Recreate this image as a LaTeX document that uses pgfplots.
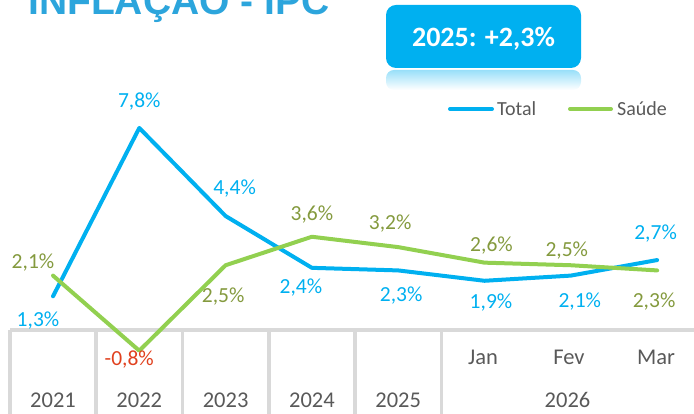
\documentclass[border=0pt]{standalone}
\usepackage{pgfplots}
\usepackage{pgfplotstable}
\pgfplotsset{compat=1.18}
\usepackage{fontspec}
\setmainfont{Carlito}
\newfontfamily\titlefont{Liberation Sans}

\definecolor{ipcblue}{HTML}{00B0F0}
\definecolor{ipcgreen}{HTML}{92D050}
\definecolor{lblolive}{HTML}{849A3E}
\definecolor{lblred}{HTML}{E0401E}
\definecolor{gridgray}{HTML}{D9D9D9}
\definecolor{txtgray}{HTML}{595959}
\definecolor{titleblue}{HTML}{2CA5DC}

% 0-4: 2021-2025, 5-7: Jan-Mar 2026
\pgfplotstableread{
x total saude
0 1.3 2.1
1 7.8 -0.8
2 4.4 2.5
3 2.4 3.6
4 2.3 3.2
5 1.9 2.6
6 2.1 2.5
7 2.7 2.3
}\ipc

% value label: colour, x, y, xshift, yshift, text
\newcommand{\lbl}[6]{\node[text=#1, anchor=base, inner sep=0pt, xshift=#4pt, yshift=#5pt,
  font=\fontsize{21.5}{21.5}\selectfont] at (axis cs:#2,#3) {#6};}

\begin{document}
\begin{tikzpicture}[x=1pt,y=1pt]
\useasboundingbox (0,0) rectangle (694,414);

% table under the chart
\draw[gridgray, line width=3.5pt] (10,84) -- (700,84);
\foreach \xx in {10,96.2,182.5,268.8,355,441.3}
  \draw[gridgray, line width=3.5pt] (\xx,84) -- (\xx,-5);

\begin{axis}[
    scale only axis, width=694pt, height=414pt,
    at={(0,0)}, anchor=south west,
    xmin=-0.6141, xmax=7.4276, ymin=-3.2432, ymax=12.7413,
    hide axis, clip=false]
  \addplot[ipcblue, line width=4pt, line cap=round, line join=round] table[x=x, y=total] {\ipc};
  \addplot[ipcgreen, line width=4pt, line cap=round, line join=round] table[x=x, y=saude] {\ipc};

  \lbl{ipcblue}{0}{1.3}{-15}{-29.7}{1,3\%}
  \lbl{ipcblue}{1}{7.8}{0}{20.3}{7,8\%}
  \lbl{ipcblue}{2}{4.4}{9}{21.3}{4,4\%}
  \lbl{ipcblue}{3}{2.4}{-11}{-25.7}{2,4\%}
  \lbl{ipcblue}{4}{2.3}{3}{-30.7}{2,3\%}
  \lbl{ipcblue}{5}{1.9}{6.5}{-27.4}{1,9\%}
  \lbl{ipcblue}{6}{2.1}{9}{-32.1}{2,1\%}
  \lbl{ipcblue}{7}{2.7}{-1.5}{20.3}{2,7\%}

  \lbl{lblolive}{0}{2.1}{-20}{6.9}{2,1\%}
  \lbl{lblred}{1}{-0.8}{-10}{-14.7}{-0,8\%}
  \lbl{lblolive}{2}{2.5}{-2.4}{-37.7}{2,5\%}
  \lbl{lblolive}{3}{3.6}{0}{16.3}{3,6\%}
  \lbl{lblolive}{4}{3.2}{-8}{17.3}{3,2\%}
  \lbl{lblolive}{5}{2.6}{7}{11.3}{2,6\%}
  \lbl{lblolive}{6}{2.5}{-4}{9}{2,5\%}
  \lbl{lblolive}{7}{2.3}{-3}{-37.3}{2,3\%}
\end{axis}

% category labels
\begin{scope}[every node/.style={anchor=base, inner sep=0pt, text=txtgray, font=\fontsize{22.5}{22.5}\selectfont}]
  \node at (53,6) {2021};
  \node at (139.3,6) {2022};
  \node at (225.6,6) {2023};
  \node at (311.9,6) {2024};
  \node at (398.2,6) {2025};
  \node at (567.5,6) {2026};
  \node at (483,49) {Jan};
  \node at (569,49) {Fev};
  \node at (656,49) {Mar};
\end{scope}

% legend
\draw[ipcblue, line width=4pt, line cap=round] (450,305) -- (492,305);
\node[anchor=base west, inner sep=0pt, text=txtgray, font=\fontsize{20}{20}\selectfont] at (497,298) {Total};
\draw[ipcgreen, line width=4pt, line cap=round] (570,305) -- (611,305);
\node[anchor=base west, inner sep=0pt, text=txtgray, font=\fontsize{20}{20}\selectfont] at (617,298) {Saúde};

% title (cut at the top edge)
\node[anchor=base west, inner sep=0pt, text=titleblue, font=\titlefont\bfseries\fontsize{39}{39}\selectfont] at (28,399) {INFLAÇÃO - IPC};

% highlight box with its reflection
\shade[top color=ipcblue!40, bottom color=white, rounded corners=8pt] (386,344) rectangle (581,324);
\fill[ipcblue, rounded corners=10pt] (386,346) rectangle (581,409);
\node[anchor=base, inner sep=0pt, text=white, font=\bfseries\fontsize{28}{28}\selectfont] at (483.5,367) {2025: +2,3\%};
\end{tikzpicture}
\end{document}
